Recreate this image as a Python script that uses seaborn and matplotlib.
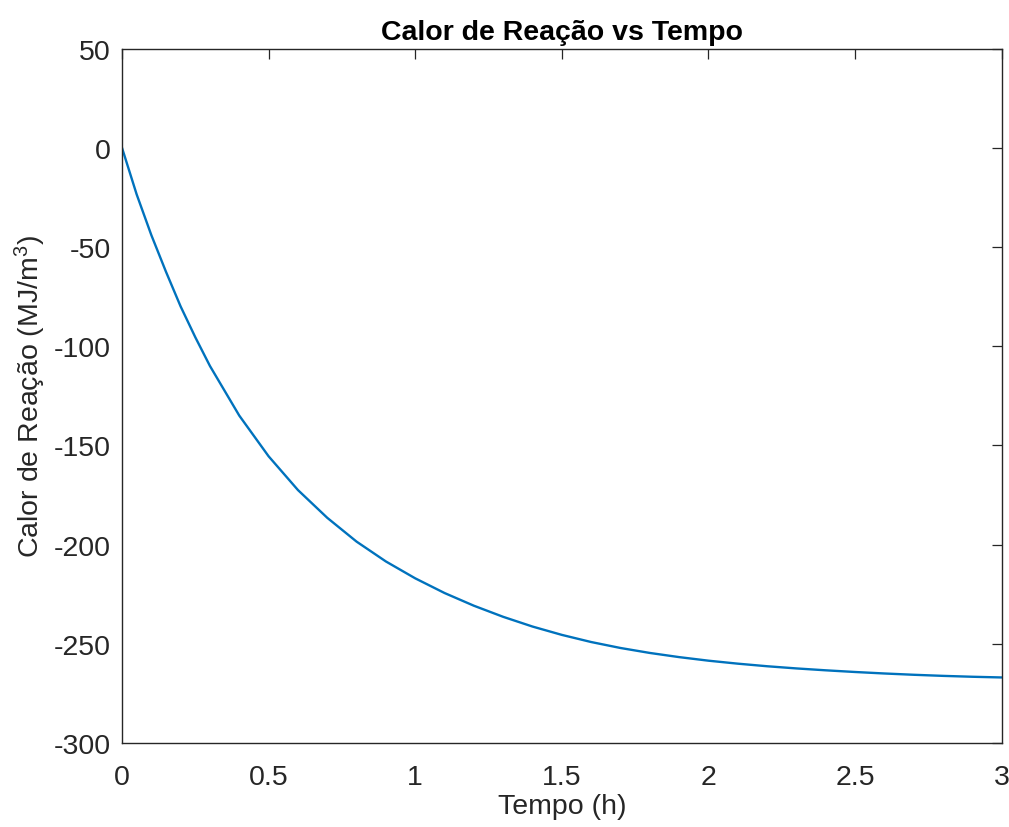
import matplotlib
matplotlib.use("Agg")
import matplotlib.pyplot as plt
import seaborn as sns
import pandas as pd

# Heat of reaction over time
tempo_h = [0.0, 0.05, 0.1, 0.15, 0.2, 0.25, 0.3, 0.4, 0.5,
           0.6, 0.7, 0.8, 0.9, 1.0, 1.1, 1.2, 1.3, 1.4, 1.5,
           1.6, 1.7, 1.8, 1.9, 2.0, 2.1, 2.2, 2.3, 2.4, 2.5,
           2.6, 2.7, 2.8, 2.9, 3.0]
calor_mj_m3 = [0.0, -23.5, -44.0, -62.5, -80.0, -95.5, -110.0, -135.0, -155.5,
               -172.5, -186.5, -198.5, -208.5, -217.0, -224.4, -230.8, -236.4, -241.3, -245.5,
               -249.1, -252.1, -254.6, -256.7, -258.5, -260.0, -261.3, -262.4, -263.35, -264.2,
               -264.95, -265.6, -266.15, -266.6, -266.95]

x_ticks = [0, 0.5, 1, 1.5, 2, 2.5, 3]
x_tick_labels = ["0", "0.5", "1", "1.5", "2", "2.5", "3"]
y_ticks = [-300, -250, -200, -150, -100, -50, 0, 50]
y_tick_labels = ["-300", "-250", "-200", "-150", "-100", "-50", "0", "50"]

df = pd.DataFrame({"t": tempo_h, "q": calor_mj_m3})

sns.set_theme(style="white")
plt.rcParams["font.family"] = ["Liberation Sans", "DejaVu Sans"]
plt.rcParams["mathtext.fontset"] = "custom"
plt.rcParams["mathtext.rm"] = "Liberation Sans"
plt.rcParams["mathtext.it"] = "Liberation Sans:italic"
plt.rcParams["axes.unicode_minus"] = False

axis_color = "#262626"
fs = 20.5
fig = plt.figure(figsize=(10.09, 8.28), dpi=100)
ax = fig.add_axes([0.1209, 0.1014, 0.8719, 0.8388])

sns.lineplot(data=df, x="t", y="q", ax=ax, color="#0072BD", linewidth=1.7)

ax.set_xlim(0, 3)
ax.set_ylim(-300, 50)
ax.set_xticks(x_ticks)
ax.set_xticklabels(x_tick_labels)
ax.set_yticks(y_ticks)
ax.set_yticklabels(y_tick_labels)

for side in ax.spines.values():
    side.set_visible(True)
    side.set_color(axis_color)
    side.set_linewidth(1.0)

ax.tick_params(axis="both", which="major", direction="in", length=7, width=0.9,
               color=axis_color, labelcolor=axis_color, labelsize=fs,
               top=True, right=True)
ax.tick_params(axis="x", pad=15)
ax.tick_params(axis="y", pad=8)

ax.set_xlabel("Tempo (h)", fontsize=fs, color=axis_color, labelpad=2)
ax.set_ylabel("Calor de Reação (MJ/m$^3$)", fontsize=fs, color=axis_color, labelpad=4)
ax.set_title("Calor de Reação vs Tempo", fontsize=fs, fontweight="bold",
             color="black", pad=7)
ax.grid(False)

fig.savefig("out.png", dpi=100, facecolor="white")
